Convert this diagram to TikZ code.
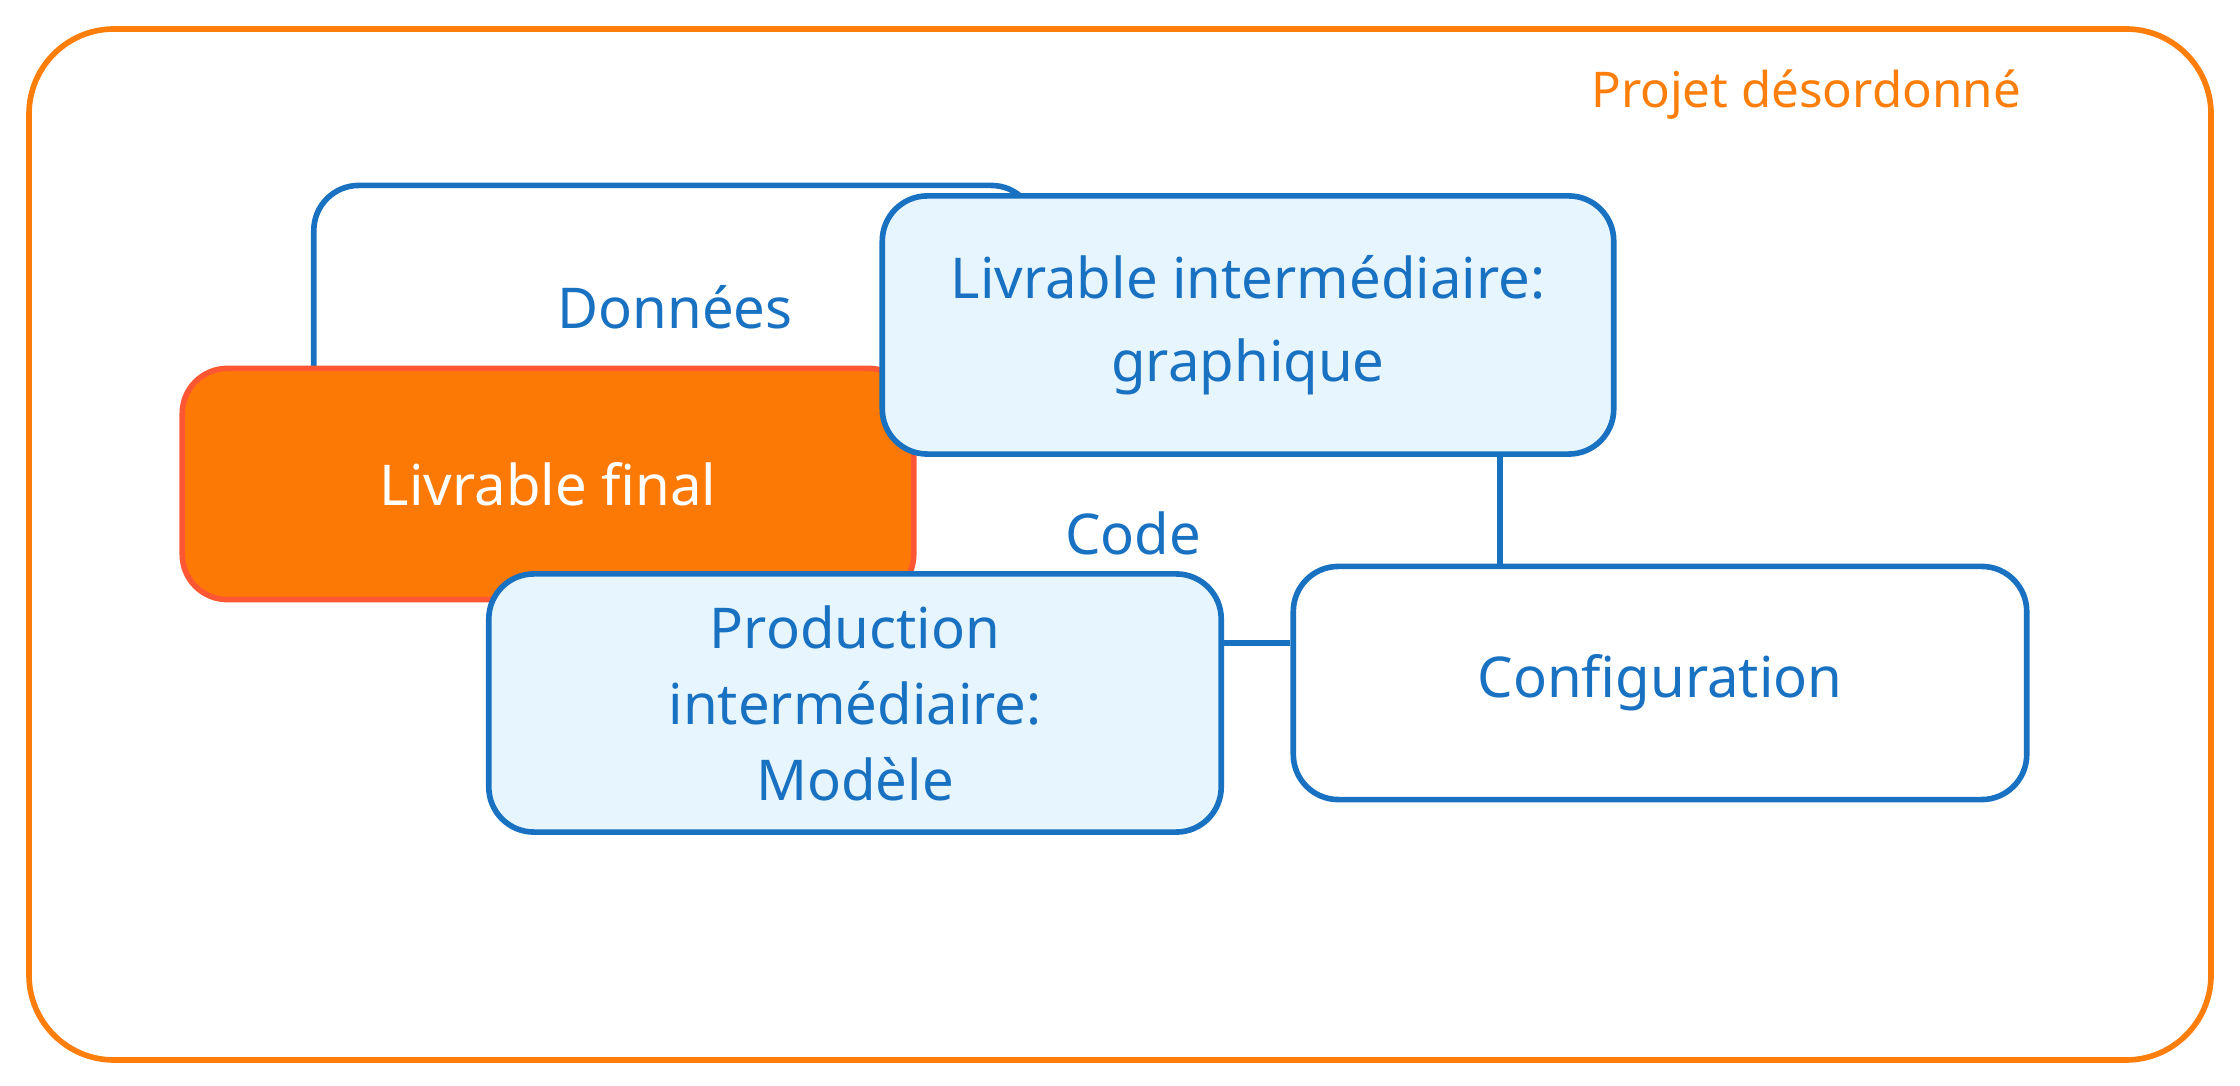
\documentclass[tikz,border=0pt]{standalone}
\usepackage{fontspec}
\setmainfont{Noto Sans}
\usetikzlibrary{calc}
\definecolor{bstroke}{RGB}{25,113,194}
\definecolor{bfill}{RGB}{231,245,255}
\definecolor{oframe}{RGB}{253,126,10}
\definecolor{ofill}{RGB}{252,121,5}
\definecolor{ostroke}{RGB}{255,87,51}
\tikzset{
  box/.style={draw=bstroke, line width=1.6pt, rounded corners=0.45cm, fill=white,
    minimum width=#1cm, align=center, text=bstroke, font=\fontsize{16}{23.6}\selectfont, inner sep=0pt},
  lightbox/.style={box=#1, fill=bfill},
  finalbox/.style={box=#1, fill=ofill, draw=ostroke, text=white},
  conn/.style={draw=bstroke, line width=1.6pt},
  lbl/.style={text=bstroke, font=\fontsize{16}{23.6}\selectfont},
}
\begin{document}
\begin{tikzpicture}[x=0.01cm, y=-0.01cm]
\useasboundingbox (0,0) rectangle (2240,1086);
\draw[draw=oframe, line width=1.6pt, rounded corners=0.85cm] (29,29) rectangle (2211,1060);
\node[text=oframe, font=\fontsize{14}{20}\selectfont] (title) at (1806,95) {Projet désordonné};

\node[box=7.22, minimum height=2.43cm] (donnees) at (675,307) {Données};
\node[finalbox=7.31, minimum height=2.31cm] (final) at (548,484) {Livrable final};
\node[lightbox=7.31, minimum height=2.58cm] (inter) at (1248,325) {Livrable intermédiaire:\\graphique};
\node[lightbox=7.32, minimum height=2.58cm, font=\fontsize{16}{21.6}\selectfont] (prod) at (855,703) {Production\\intermédiaire:\\Modèle};
\node[box=7.33, minimum height=2.33cm] (config) at (1660,683) {Configuration};
\node[lbl] (code) at (1133,533) {Code};

\coordinate (c1) at ($(inter.south)+(252,0)$);
\coordinate (c2) at ($(prod.east)+(0,-60)$);
\draw[conn] (c1) -- (c1 |- config.north);
\draw[conn] (c2) -- (c2 -| config.west);
\end{tikzpicture}
\end{document}
